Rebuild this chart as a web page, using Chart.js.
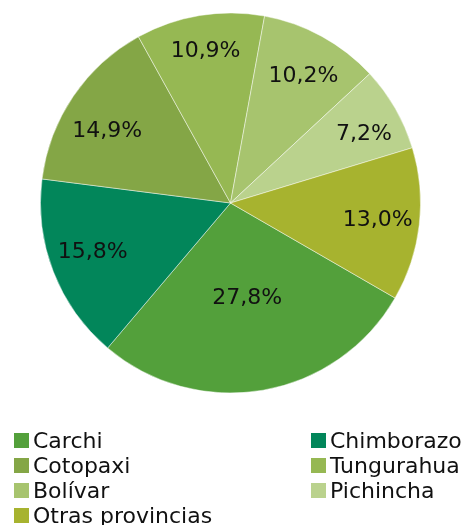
<!DOCTYPE html>
<html>
<head>
<meta charset="utf-8">
<script src="https://cdn.jsdelivr.net/npm/chart.js@4/dist/chart.umd.min.js"></script>
<style>
  html, body { margin: 0; padding: 0; background: #ffffff; }
  #wrap { position: relative; width: 474px; height: 525px; }
  #c { position: absolute; left: 0; top: 0; }
  #legend { position: absolute; left: 0; top: 0; width: 474px; height: 525px; pointer-events: none;
    font-family: "DejaVu Sans", sans-serif; font-size: 22px; color: #111; }
  .item { position: absolute; height: 25px; line-height: 25px; white-space: nowrap; }
  .sw { position: absolute; left: 0; top: 5px; width: 15px; height: 15px; }
  .tx { position: absolute; left: 19px; top: 0; }
</style>
</head>
<body>
<div id="wrap">
  <canvas id="c" width="474" height="525"></canvas>
  <div id="legend"></div>
</div>
<script>
const categories = ["Carchi", "Chimborazo", "Cotopaxi", "Tungurahua", "Bolívar", "Pichincha", "Otras provincias"];
const shares = [27.8, 15.8, 14.9, 10.9, 10.2, 7.2, 13.0];
const valueLabels = ["27,8%", "15,8%", "14,9%", "10,9%", "10,2%", "7,2%", "13,0%"];
const colors = ["#53a03b", "#02865a", "#84a646", "#96b853", "#a7c46e", "#bad28d", "#a7b32f"];

const labelPlugin = {
  id: "sliceLabels",
  afterDatasetsDraw(chart, args, opts) {
    const ctx = chart.ctx;
    const meta = chart.getDatasetMeta(0);
    ctx.save();
    ctx.font = '22px "DejaVu Sans", sans-serif';
    ctx.fillStyle = "#111";
    ctx.textAlign = "center";
    ctx.textBaseline = "middle";
    meta.data.forEach((arc, i) => {
      const p = arc.getProps(["x", "y", "startAngle", "endAngle", "outerRadius"], true);
      const mid = (p.startAngle + p.endAngle) / 2 + opts.angleNudge[i] * Math.PI / 180;
      const r = p.outerRadius * opts.radiusFactor[i];
      ctx.fillText(valueLabels[i], p.x + Math.cos(mid) * r, p.y + Math.sin(mid) * r);
    });
    ctx.restore();
  }
};

new Chart(document.getElementById("c"), {
  type: "pie",
  data: {
    labels: categories,
    datasets: [{
      data: shares,
      backgroundColor: colors,
      borderColor: "rgba(255,255,255,0.45)",
      borderWidth: 1
    }]
  },
  options: {
    responsive: false,
    animation: false,
    rotation: 120,
    layout: { padding: { left: 40, right: 53, top: 12, bottom: 131 } },
    plugins: {
      legend: { display: false },
      tooltip: { enabled: false },
      sliceLabels: {
        radiusFactor: [0.51, 0.77, 0.75, 0.81, 0.77, 0.79, 0.78],
        angleNudge: [0, 1.6, -4.0, 0, 1.2, 2.6, 0]
      }
    }
  },
  plugins: [labelPlugin]
});

// HTML legend built from the same arrays
const legendPos = [
  [14, 428], [311, 428],
  [14, 453], [311, 453],
  [14, 478], [311, 478],
  [14, 503]
];
const lg = document.getElementById("legend");
categories.forEach((name, i) => {
  const d = document.createElement("div");
  d.className = "item";
  d.style.left = legendPos[i][0] + "px";
  d.style.top = legendPos[i][1] + "px";
  d.innerHTML = '<span class="sw" style="background:' + colors[i] + '"></span><span class="tx">' + name + '</span>';
  lg.appendChild(d);
});
</script>
</body>
</html>
